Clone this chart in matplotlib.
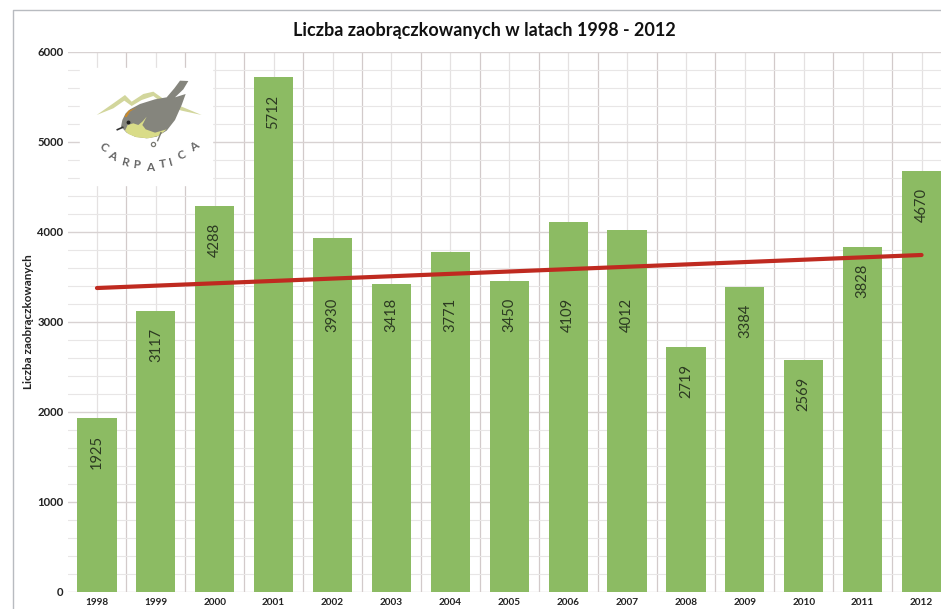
import numpy as np
import matplotlib
matplotlib.use("Agg")
import matplotlib.pyplot as plt
from matplotlib.patches import Polygon, Rectangle

years = [1998, 1999, 2000, 2001, 2002, 2003, 2004, 2005, 2006, 2007, 2008, 2009, 2010, 2011, 2012]
counts = [1925, 3117, 4288, 5712, 3930, 3418, 3771, 3450, 4109, 4012, 2719, 3384, 2569, 3828, 4670]
trend_years = [1998, 2012]
trend_values = [3372, 3739]
title = "Liczba zaobrączkowanych w latach 1998 - 2012"
ylabel = "Liczba zaobrączkowanych"
# labels pushed below the red line in the original
lowered = [2002, 2003, 2004, 2005, 2006, 2007]

W, H = 941, 609
plt.rcParams["font.family"] = ["Lato", "DejaVu Sans"]
fig = plt.figure(figsize=(W / 100, H / 100), dpi=100)

# axes runs a bit past the right edge, last bar is cut like in the picture
left, right, top, bottom = 67.5, 951, 51.5, 591.5
ax = fig.add_axes([left / W, 1 - bottom / H, (right - left) / W, (bottom - top) / H])
x = np.arange(len(years))
ax.set_xlim(-0.5, len(years) - 0.5)
ax.set_ylim(0, 6000)

ax.set_yticks(np.arange(0, 6001, 1000))
ax.set_yticks(np.arange(0, 6001, 200), minor=True)
ax.set_xticks(x)
ax.set_xticks(x[:-1] + 0.5, minor=True)
ax.set_xticklabels(years, fontsize=7.2, fontweight="bold", color="#222222")
ax.tick_params(axis="y", which="major", labelsize=8.2, length=0, pad=3, labelcolor="#222222")
ax.tick_params(axis="x", which="major", length=0, pad=5)
ax.tick_params(which="minor", length=0)
for t in ax.get_yticklabels():
    t.set_fontweight("bold")
ax.grid(True, which="major", axis="y", color="#d8d2d2", lw=1.0)
ax.grid(True, which="minor", axis="y", color="#e8e6e6", lw=0.8)
ax.grid(True, which="major", axis="x", color="#e4e1e1", lw=0.9)
ax.grid(True, which="minor", axis="x", color="#d2caca", lw=0.9)
ax.set_axisbelow(True)
for s in ax.spines.values():
    s.set_visible(False)

ax.bar(x, counts, width=0.667, color="#8cbb63", zorder=2)
ax.plot([years.index(y) for y in trend_years], trend_values, color="#bf2a20", lw=3.0,
        solid_capstyle="round", zorder=4)

for i, (yr, v) in enumerate(zip(years, counts)):
    if yr in lowered:
        ax.text(i, 3072, str(v), rotation=90, ha="center", va="center", fontsize=10.6,
                color="#2c3a22", zorder=5)
    else:
        ax.annotate(str(v), (i, v), xytext=(0, -24.5), textcoords="offset points", rotation=90,
                    ha="center", va="center", fontsize=10.6, color="#2c3a22", zorder=5)

fig.text(484 / W, 1 - 30.5 / H, title, ha="center", va="center", fontsize=13, fontweight="bold", color="#111111")
fig.text(28 / W, 1 - 322 / H, ylabel, rotation=90, ha="center", va="center", fontsize=8.4,
         fontweight="bold", color="#222222")

# overlay in pixel coordinates for frame and logo
ov = fig.add_axes([0, 0, 1, 1], facecolor="none")
ov.set_xlim(0, W)
ov.set_ylim(H, 0)
ov.axis("off")
ov.plot([13.5, 13.5, W], [H, 9.5, 9.5], color="#b8bbc0", lw=1.0)


def crop(points):
    return [(85 + px / 3, 70 + py / 3) for px, py in points]


ov.add_patch(Rectangle((80, 68), 132, 117, color="white", zorder=6))
mountains = [(35, 135), (85, 100), (120, 75), (140, 95), (175, 72), (205, 65), (240, 90), (290, 110), (350, 135),
             (290, 122), (240, 105), (205, 78), (170, 90), (140, 108), (118, 92), (85, 115)]
body = [(108, 170), (112, 150), (122, 130), (135, 118), (165, 102), (210, 88), (245, 82), (268, 55), (285, 32),
        (310, 33), (295, 58), (270, 82), (302, 72), (290, 105), (270, 150), (245, 182), (215, 200), (185, 205),
        (150, 200), (125, 188)]
belly = [(120, 182), (128, 165), (145, 160), (160, 165), (172, 155), (185, 140), (172, 165), (182, 178), (210, 188),
         (245, 178), (222, 197), (190, 205), (155, 202), (130, 192)]
crown = [(118, 140), (130, 122), (155, 113), (135, 125), (125, 142)]
ov.add_patch(Polygon(crop(mountains), color="#d2d69c", lw=0, zorder=7))
ov.add_patch(Polygon(crop(body), color="#85857d", lw=0, zorder=8))
ov.add_patch(Polygon(crop(belly), color="#d9dc88", lw=0, zorder=9))
ov.add_patch(Polygon(crop(crown), color="#c98a2c", lw=0, zorder=9))
beak = crop([(97, 179), (113, 172)])
ov.plot([beak[0][0], beak[1][0]], [beak[0][1], beak[1][1]], color="#333333", lw=1.2, zorder=10)
ov.plot([85 + 128 / 3], [70 + 157 / 3], marker="o", ms=1.8, color="#222222", zorder=10)
leg = crop([(218, 212), (228, 188)])
ov.plot([leg[0][0], leg[1][0]], [leg[0][1], leg[1][1]], color="#777770", lw=1.0, zorder=10)
ov.plot([85 + 205 / 3], [70 + 222 / 3], marker="o", ms=3, mfc="none", mec="#777770", mew=0.9, zorder=10)

logo_letters = list("CARPATICA")
letter_pos = crop([(55, 232), (82, 258), (122, 277), (155, 285), (195, 292), (233, 282), (257, 275), (290, 255), (328, 230)])
letter_rot = [-35, -27, -15, -6, 0, 8, 15, 24, 35]
for ch, (lx, ly), rot in zip(logo_letters, letter_pos, letter_rot):
    ov.text(lx, ly, ch, ha="center", va="center", rotation=rot, fontsize=8.5, fontweight="bold", color="#666666", zorder=10)

fig.savefig("out.png", dpi=100)
